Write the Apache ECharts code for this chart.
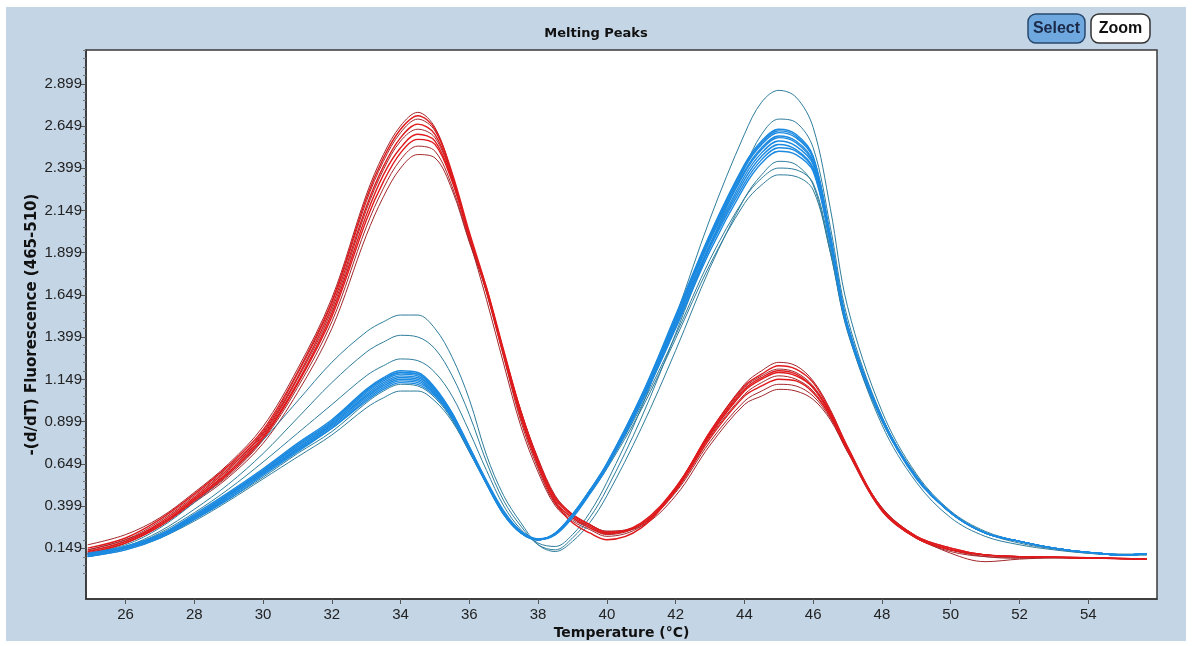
<!DOCTYPE html>
<html>
<head>
<meta charset="utf-8">
<script src="https://cdn.jsdelivr.net/npm/echarts@6/dist/echarts.min.js"></script>
<style>
  html, body { margin: 0; padding: 0; background: #fff; }
  #chart { width: 1192px; height: 646px; }
</style>
</head>
<body>
<div id="chart"></div>
<script>
// temperature grid (°C) shared by every curve
const temps = [24.9, 26, 27, 28, 29, 30, 31, 32, 33, 33.5,
  34, 34.5, 35, 35.5, 36, 36.5, 37, 37.5, 38, 38.5,
  39, 39.5, 40, 41, 42, 43, 44, 44.5, 45, 45.5,
  46, 46.5, 47, 48, 49, 50, 51, 52, 53, 54,
  55, 55.7]

// red samples, -(d/dT) values
const red1 = [0.17, 0.23, 0.33, 0.48, 0.65, 0.87, 1.21, 1.63, 2.24, 2.48, 2.65, 2.73, 2.64, 2.36, 1.98, 1.62, 1.24, 0.87, 0.60, 0.40, 0.31, 0.26, 0.22, 0.28, 0.50, 0.84, 1.12, 1.20, 1.25, 1.23, 1.14, 0.97, 0.75, 0.38, 0.21, 0.13, 0.10, 0.095, 0.094, 0.09, 0.087, 0.085]
const red2 = [0.14, 0.20, 0.31, 0.46, 0.63, 0.84, 1.18, 1.60, 2.20, 2.44, 2.61, 2.69, 2.62, 2.36, 2.00, 1.66, 1.28, 0.90, 0.62, 0.41, 0.32, 0.27, 0.23, 0.29, 0.51, 0.83, 1.10, 1.17, 1.21, 1.19, 1.11, 0.95, 0.74, 0.38, 0.21, 0.14, 0.11, 0.10, 0.096, 0.092, 0.088, 0.085]
const red3 = [0.13, 0.19, 0.30, 0.45, 0.62, 0.83, 1.16, 1.58, 2.17, 2.41, 2.58, 2.66, 2.60, 2.35, 2.00, 1.67, 1.29, 0.92, 0.64, 0.42, 0.33, 0.27, 0.235, 0.29, 0.50, 0.82, 1.08, 1.15, 1.19, 1.17, 1.10, 0.94, 0.73, 0.37, 0.21, 0.14, 0.11, 0.10, 0.097, 0.092, 0.088, 0.085]
const red4 = [0.12, 0.18, 0.29, 0.44, 0.61, 0.82, 1.15, 1.56, 2.15, 2.39, 2.56, 2.63, 2.58, 2.34, 1.99, 1.67, 1.30, 0.93, 0.64, 0.43, 0.33, 0.28, 0.24, 0.29, 0.49, 0.81, 1.06, 1.13, 1.17, 1.15, 1.08, 0.93, 0.72, 0.37, 0.21, 0.14, 0.11, 0.10, 0.096, 0.092, 0.088, 0.085]
const red5 = [0.13, 0.19, 0.29, 0.44, 0.60, 0.81, 1.13, 1.54, 2.12, 2.36, 2.52, 2.60, 2.56, 2.33, 1.99, 1.68, 1.31, 0.95, 0.66, 0.44, 0.34, 0.28, 0.24, 0.30, 0.51, 0.83, 1.09, 1.16, 1.20, 1.18, 1.10, 0.95, 0.74, 0.38, 0.22, 0.15, 0.11, 0.10, 0.097, 0.093, 0.089, 0.086]
const red6 = [0.12, 0.18, 0.28, 0.43, 0.59, 0.80, 1.12, 1.52, 2.09, 2.32, 2.49, 2.57, 2.54, 2.32, 1.99, 1.69, 1.32, 0.96, 0.67, 0.45, 0.35, 0.29, 0.245, 0.29, 0.49, 0.80, 1.05, 1.11, 1.15, 1.14, 1.07, 0.93, 0.73, 0.38, 0.22, 0.15, 0.11, 0.10, 0.097, 0.093, 0.089, 0.086]
const red7 = [0.14, 0.20, 0.29, 0.43, 0.58, 0.79, 1.10, 1.49, 2.05, 2.28, 2.45, 2.53, 2.50, 2.29, 1.97, 1.68, 1.31, 0.96, 0.67, 0.45, 0.35, 0.29, 0.25, 0.29, 0.48, 0.78, 1.02, 1.08, 1.12, 1.11, 1.05, 0.92, 0.73, 0.39, 0.22, 0.14, 0.10, 0.09, 0.093, 0.092, 0.088, 0.085]
const red8 = [0.12, 0.18, 0.28, 0.42, 0.57, 0.77, 1.07, 1.45, 2.00, 2.23, 2.40, 2.48, 2.46, 2.27, 1.96, 1.67, 1.31, 0.96, 0.68, 0.46, 0.35, 0.29, 0.25, 0.28, 0.46, 0.76, 1.00, 1.05, 1.09, 1.08, 1.03, 0.91, 0.72, 0.39, 0.22, 0.12, 0.07, 0.085, 0.092, 0.091, 0.088, 0.085]
const red9 = [0.15, 0.21, 0.32, 0.47, 0.64, 0.85, 1.19, 1.61, 2.22, 2.46, 2.63, 2.71, 2.63, 2.37, 2.02, 1.69, 1.30, 0.93, 0.64, 0.42, 0.30, 0.24, 0.20, 0.27, 0.50, 0.84, 1.11, 1.18, 1.23, 1.21, 1.13, 0.96, 0.75, 0.38, 0.21, 0.14, 0.11, 0.10, 0.096, 0.092, 0.088, 0.085]

// blue samples
const blue1 = [0.12, 0.17, 0.27, 0.42, 0.59, 0.79, 1.02, 1.25, 1.43, 1.49, 1.53, 1.53, 1.45, 1.28, 1.03, 0.70, 0.46, 0.30, 0.17, 0.13, 0.19, 0.30, 0.46, 0.86, 1.32, 1.81, 2.22, 2.36, 2.44, 2.42, 2.30, 1.90, 1.44, 0.88, 0.54, 0.33, 0.22, 0.17, 0.14, 0.12, 0.11, 0.11]
const blue2 = [0.12, 0.16, 0.25, 0.38, 0.53, 0.71, 0.92, 1.13, 1.31, 1.37, 1.41, 1.40, 1.33, 1.17, 0.94, 0.66, 0.43, 0.28, 0.17, 0.14, 0.21, 0.33, 0.50, 0.92, 1.42, 1.94, 2.40, 2.60, 2.69, 2.67, 2.52, 2.05, 1.51, 0.93, 0.58, 0.36, 0.24, 0.18, 0.145, 0.12, 0.11, 0.11]
const blue3 = [0.10, 0.15, 0.24, 0.36, 0.50, 0.66, 0.83, 1.00, 1.17, 1.23, 1.27, 1.26, 1.19, 1.05, 0.84, 0.61, 0.40, 0.26, 0.18, 0.16, 0.23, 0.36, 0.54, 0.98, 1.52, 2.10, 2.60, 2.79, 2.86, 2.82, 2.64, 2.16, 1.58, 0.96, 0.59, 0.37, 0.25, 0.19, 0.15, 0.125, 0.115, 0.115]
const blue4 = [0.11, 0.16, 0.23, 0.35, 0.48, 0.62, 0.77, 0.91, 1.09, 1.16, 1.20, 1.19, 1.10, 0.95, 0.75, 0.54, 0.36, 0.24, 0.20, 0.23, 0.34, 0.49, 0.65, 1.05, 1.53, 2.01, 2.42, 2.56, 2.63, 2.60, 2.47, 2.00, 1.47, 0.92, 0.57, 0.36, 0.24, 0.19, 0.15, 0.125, 0.11, 0.115]
const blue5 = [0.12, 0.16, 0.23, 0.34, 0.47, 0.61, 0.76, 0.90, 1.08, 1.15, 1.19, 1.18, 1.09, 0.95, 0.74, 0.54, 0.35, 0.24, 0.20, 0.235, 0.34, 0.48, 0.64, 1.04, 1.51, 1.99, 2.40, 2.54, 2.61, 2.58, 2.46, 1.99, 1.47, 0.92, 0.57, 0.36, 0.24, 0.19, 0.15, 0.125, 0.11, 0.115]
const blue6 = [0.11, 0.15, 0.22, 0.34, 0.47, 0.61, 0.75, 0.89, 1.07, 1.14, 1.18, 1.17, 1.08, 0.94, 0.74, 0.54, 0.36, 0.245, 0.20, 0.235, 0.34, 0.48, 0.64, 1.03, 1.50, 1.98, 2.38, 2.52, 2.59, 2.56, 2.44, 1.98, 1.46, 0.91, 0.57, 0.36, 0.24, 0.19, 0.15, 0.125, 0.11, 0.115]
const blue7 = [0.10, 0.15, 0.22, 0.33, 0.46, 0.60, 0.74, 0.88, 1.06, 1.13, 1.17, 1.16, 1.08, 0.94, 0.75, 0.55, 0.37, 0.25, 0.205, 0.23, 0.33, 0.47, 0.63, 1.02, 1.49, 1.97, 2.37, 2.51, 2.58, 2.55, 2.43, 1.97, 1.46, 0.91, 0.56, 0.36, 0.24, 0.19, 0.15, 0.125, 0.11, 0.115]
const blue8 = [0.11, 0.15, 0.22, 0.33, 0.46, 0.60, 0.74, 0.88, 1.05, 1.12, 1.16, 1.15, 1.07, 0.93, 0.74, 0.54, 0.36, 0.245, 0.20, 0.235, 0.34, 0.48, 0.63, 1.02, 1.48, 1.95, 2.35, 2.49, 2.56, 2.53, 2.42, 1.97, 1.46, 0.92, 0.57, 0.36, 0.24, 0.19, 0.15, 0.125, 0.11, 0.115]
const blue9 = [0.11, 0.15, 0.22, 0.33, 0.45, 0.59, 0.73, 0.87, 1.04, 1.11, 1.15, 1.14, 1.06, 0.92, 0.73, 0.53, 0.35, 0.24, 0.20, 0.24, 0.35, 0.49, 0.64, 1.02, 1.47, 1.94, 2.33, 2.47, 2.54, 2.51, 2.40, 1.96, 1.45, 0.91, 0.57, 0.36, 0.24, 0.19, 0.15, 0.125, 0.11, 0.115]
const blue10 = [0.10, 0.14, 0.21, 0.32, 0.45, 0.59, 0.73, 0.86, 1.03, 1.10, 1.14, 1.13, 1.06, 0.93, 0.74, 0.54, 0.36, 0.25, 0.205, 0.235, 0.34, 0.48, 0.63, 1.01, 1.46, 1.93, 2.31, 2.45, 2.52, 2.50, 2.39, 1.96, 1.45, 0.91, 0.57, 0.36, 0.24, 0.19, 0.15, 0.125, 0.11, 0.115]
const blue11 = [0.11, 0.15, 0.22, 0.32, 0.44, 0.58, 0.72, 0.86, 1.02, 1.09, 1.13, 1.12, 1.05, 0.92, 0.73, 0.53, 0.35, 0.24, 0.20, 0.24, 0.35, 0.49, 0.64, 1.01, 1.45, 1.91, 2.29, 2.43, 2.50, 2.48, 2.38, 1.95, 1.45, 0.91, 0.57, 0.36, 0.24, 0.19, 0.15, 0.125, 0.11, 0.115]
const blue12 = [0.10, 0.14, 0.21, 0.31, 0.43, 0.56, 0.69, 0.82, 0.98, 1.04, 1.08, 1.08, 1.02, 0.90, 0.72, 0.53, 0.35, 0.24, 0.20, 0.24, 0.35, 0.48, 0.63, 0.99, 1.41, 1.86, 2.22, 2.34, 2.40, 2.39, 2.31, 1.92, 1.44, 0.91, 0.57, 0.36, 0.24, 0.19, 0.15, 0.125, 0.11, 0.115]
const blue13 = [0.11, 0.15, 0.21, 0.32, 0.44, 0.57, 0.71, 0.84, 1.01, 1.08, 1.12, 1.11, 1.04, 0.91, 0.72, 0.53, 0.35, 0.24, 0.20, 0.24, 0.35, 0.47, 0.62, 0.97, 1.39, 1.83, 2.19, 2.30, 2.36, 2.35, 2.27, 1.90, 1.43, 0.90, 0.57, 0.36, 0.24, 0.19, 0.15, 0.125, 0.11, 0.115]
const blue14 = [0.11, 0.15, 0.23, 0.34, 0.47, 0.61, 0.76, 0.90, 1.08, 1.15, 1.19, 1.18, 1.09, 0.94, 0.74, 0.54, 0.36, 0.245, 0.20, 0.235, 0.34, 0.49, 0.65, 1.05, 1.52, 2.00, 2.41, 2.55, 2.62, 2.59, 2.46, 2.00, 1.47, 0.92, 0.57, 0.36, 0.24, 0.19, 0.15, 0.125, 0.11, 0.115]

// axis ticks
const xTicks = [26, 28, 30, 32, 34, 36, 38, 40, 42, 44, 46, 48, 50, 52, 54]
const yTicks = [0.149, 0.399, 0.649, 0.899, 1.149, 1.399, 1.649, 1.899, 2.149, 2.399, 2.649, 2.899]

const redCurves = [red1, red2, red3, red4, red5, red6, red7, red8, red9]
const blueCurves = [blue1, blue2, blue3, blue4, blue5, blue6, blue7, blue8, blue9, blue10, blue11, blue12, blue13, blue14]

// which curves get the darker thin stroke
const redDark = [0, 1, 3, 6, 7]
const blueDark = [0, 1, 2, 11, 12]

// minor ticks every 0.05 between the labelled ones
const yMinor = []
for (let i = -3; i <= 59; i++) {
  const v = +(0.149 + i * 0.05).toFixed(3)
  if (i % 5 !== 0) yMinor.push(v)
}

const font = '"Liberation Sans", Arial, sans-serif'
const boldFont = '"DejaVu Sans", "Liberation Sans", sans-serif'

function makeSeries(curves, darkList, bright, dark, prefix) {
  return curves.map((vals, i) => {
    const isDark = darkList.indexOf(i) >= 0
    return {
      name: prefix + (i + 1),
      type: 'line',
      data: temps.map((t, k) => [t, vals[k]]),
      smooth: 0.35,
      showSymbol: false,
      silent: true,
      z: isDark ? 2 : 3,
      lineStyle: {
        color: isDark ? dark : bright,
        width: isDark ? 1 : 1.4
      }
    }
  })
}

const chart = echarts.init(document.getElementById('chart'))
const option = {
  animation: false,
  backgroundColor: '#c4d5e6',
  title: {
    text: 'Melting Peaks',
    left: 'center',
    top: 22,
    textStyle: { fontSize: 13, fontWeight: 'bold', color: '#111', fontFamily: boldFont }
  },
  graphic: [
    // white frame around the panel
    { type: 'rect', shape: { x: 0, y: 0, width: 1192, height: 7 }, style: { fill: '#fff' } },
    { type: 'rect', shape: { x: 0, y: 0, width: 6, height: 646 }, style: { fill: '#fff' } },
    { type: 'rect', shape: { x: 1186, y: 0, width: 6, height: 646 }, style: { fill: '#fff' } },
    { type: 'rect', shape: { x: 0, y: 641, width: 1192, height: 5 }, style: { fill: '#fff' } },
    // buttons
    { type: 'rect', shape: { x: 1028, y: 14, width: 57, height: 29, r: 8 }, style: { fill: '#6ea8df', stroke: '#27486e', lineWidth: 1.5 } },
    { type: 'text', x: 1056.5, y: 29, style: { text: 'Select', align: 'center', verticalAlign: 'middle', font: 'bold 16px ' + font, fill: '#1a2a48' } },
    { type: 'rect', shape: { x: 1091, y: 14, width: 59, height: 29, r: 8 }, style: { fill: '#fff', stroke: '#333', lineWidth: 1.5 } },
    { type: 'text', x: 1120.5, y: 29, style: { text: 'Zoom', align: 'center', verticalAlign: 'middle', font: 'bold 16px ' + font, fill: '#111' } }
  ],
  grid: {
    left: 86,
    top: 50,
    right: 35,
    bottom: 47,
    show: true,
    backgroundColor: '#fff',
    borderColor: '#3a3a3a',
    borderWidth: 1.5
  },
  xAxis: {
    type: 'value',
    min: 24.85,
    max: 56,
    name: 'Temperature (°C)',
    nameLocation: 'middle',
    nameGap: 27,
    nameMoveOverlap: false,
    nameTextStyle: { fontSize: 14, fontWeight: 'bold', color: '#111', fontFamily: boldFont },
    axisLine: { show: true, onZero: false, lineStyle: { color: '#333', width: 1.5 } },
    axisTick: { show: true, customValues: xTicks, length: 5, lineStyle: { color: '#555' } },
    axisLabel: { customValues: xTicks, fontSize: 15, color: '#222', margin: 8, fontFamily: font },
    splitLine: { show: false }
  },
  yAxis: [
    {
      type: 'value',
      min: -0.151,
      max: 3.099,
      name: '-(d/dT) Fluorescence (465-510)',
      nameLocation: 'middle',
      nameGap: 46,
      nameMoveOverlap: false,
      nameRotate: 90,
      nameTextStyle: { fontSize: 15, fontWeight: 'bold', color: '#111', fontFamily: boldFont },
      axisLine: { show: true, onZero: false, lineStyle: { color: '#333', width: 1.5 } },
      axisTick: { show: true, customValues: yTicks, length: 6, lineStyle: { color: '#555' } },
      axisLabel: {
        customValues: yTicks,
        formatter: v => v.toFixed(3),
        fontSize: 15,
        color: '#222',
        margin: 4,
        fontFamily: font
      },
      splitLine: { show: false }
    },
    {
      type: 'value',
      min: -0.151,
      max: 3.099,
      position: 'left',
      axisLine: { show: false },
      axisTick: { show: true, customValues: yMinor, length: 3, lineStyle: { color: '#777' } },
      axisLabel: { show: false },
      splitLine: { show: false }
    }
  ],
  series: makeSeries(redCurves, redDark, '#e01a1c', '#a3272b', 'red')
    .concat(makeSeries(blueCurves, blueDark, '#1c8ae0', '#2e7d9c', 'blue'))
}
chart.setOption(option)
</script>
</body>
</html>
